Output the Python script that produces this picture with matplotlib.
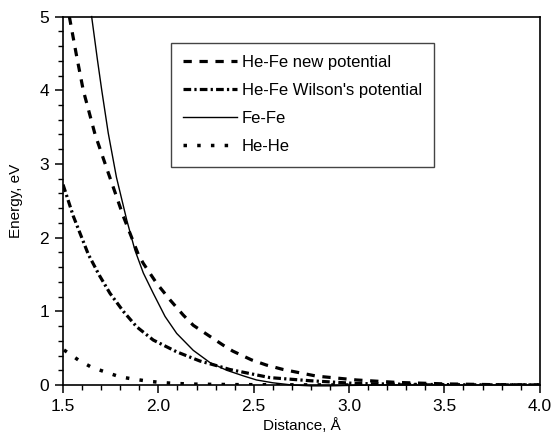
import numpy as np
import matplotlib.pyplot as plt
from matplotlib.ticker import MultipleLocator

plt.rcParams['font.family'] = ['Liberation Sans', 'DejaVu Sans']

# He-Fe new potential (dashed)
x_new = [1.533, 1.57, 1.606, 1.668, 1.737, 1.78, 1.816, 1.851, 1.895, 1.921,
         1.991, 2.061, 2.13, 2.183, 2.27, 2.34, 2.39, 2.489, 2.567, 2.655,
         2.83, 3.04, 3.25, 3.5, 3.75, 4.0]
y_new = [5.0, 4.48, 4.0, 3.40, 2.88, 2.56, 2.29, 2.06, 1.77, 1.65,
         1.38, 1.155, 0.95, 0.81, 0.66, 0.54, 0.46, 0.34, 0.27, 0.21,
         0.12, 0.068, 0.035, 0.015, 0.005, 0.0]

# He-Fe Wilson's potential (dash-dot)
x_wil = [1.5, 1.554, 1.633, 1.69, 1.746, 1.816, 1.886, 1.973, 2.096, 2.218,
         2.323, 2.375, 2.585, 2.795, 3.04, 3.3, 3.6, 4.0]
y_wil = [2.72, 2.29, 1.77, 1.49, 1.245, 1.00, 0.79, 0.61, 0.45, 0.325,
         0.25, 0.21, 0.10, 0.058, 0.02, 0.01, 0.003, 0.0]

# Fe-Fe (solid)
x_fe = [1.65, 1.68, 1.703, 1.737, 1.78, 1.834, 1.877, 1.921, 1.973, 2.035, 2.096,
        2.183, 2.27, 2.358, 2.45, 2.515, 2.6, 2.7, 2.8, 2.9, 3.0, 3.2, 3.5, 4.0]
y_fe = [5.0, 4.42, 4.0, 3.42, 2.82, 2.24, 1.83, 1.52, 1.245, 0.93, 0.70,
        0.47, 0.305, 0.20, 0.12, 0.068, 0.03, 0.0, -0.012, -0.012, -0.006, 0.0, 0.0, 0.0]

# He-He (dotted)
x_he = [1.505, 1.58, 1.65, 1.729, 1.799, 1.877, 1.952, 2.03, 2.10, 2.18,
        2.4, 2.7, 3.0, 3.5, 4.0]
y_he = [0.475, 0.34, 0.24, 0.17, 0.11, 0.077, 0.05, 0.03, 0.02, 0.012,
        0.005, 0.002, 0.0, 0.0, 0.0]

fig = plt.figure(figsize=(5.53, 4.36), dpi=100)
ax = fig.add_axes([0.114, 0.117, 0.862, 0.845])

ax.plot(x_new, y_new, color='k', lw=2.3, ls=(0, (2.6, 2.4)), label='He-Fe new potential')
ax.plot(x_wil, y_wil, color='k', lw=2.3, ls=(0, (2.4, 1.0, 0.7, 1.0)), label="He-Fe Wilson's potential")
ax.plot(x_fe, y_fe, color='k', lw=1.0, ls='-', label='Fe-Fe', clip_on=False)
ax.plot(x_he, y_he, color='k', lw=2.5, ls=(0, (1.0, 2.95)), label='He-He')

ax.set_xlim(1.5, 4.0)
ax.set_ylim(0, 5)
ax.xaxis.set_major_locator(MultipleLocator(0.5))
ax.xaxis.set_minor_locator(MultipleLocator(0.1))
ax.yaxis.set_major_locator(MultipleLocator(1))
ax.yaxis.set_minor_locator(MultipleLocator(0.2))
ax.xaxis.set_major_formatter(plt.FuncFormatter(lambda v, p: '%.1f' % v))
ax.yaxis.set_major_formatter(plt.FuncFormatter(lambda v, p: '%d' % v))
ax.tick_params(which='major', direction='out', length=6, width=1.1, labelsize=12.5, pad=4)
ax.tick_params(which='minor', direction='out', length=3.5, width=1.0)
for s in ax.spines.values():
    s.set_linewidth(1.2)

ax.set_xlabel('Distance, Å', fontsize=11, labelpad=3)
ax.set_ylabel('Energy, eV', fontsize=11, labelpad=12)

leg = ax.legend(loc='upper left', bbox_to_anchor=(0.226, 0.929), borderaxespad=0,
                fontsize=12, handlelength=3.2, handletextpad=0.3, labelspacing=0.78,
                borderpad=0.75, fancybox=False, framealpha=1, edgecolor='#444444')
leg.get_frame().set_linewidth(1.0)

fig.savefig('out.png', dpi=100)
